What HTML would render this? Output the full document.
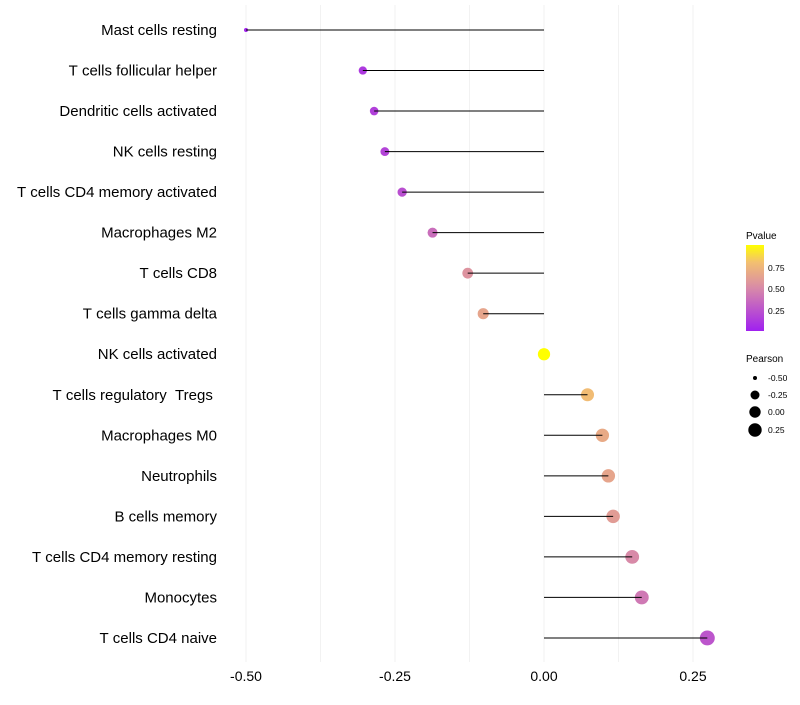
<!DOCTYPE html>
<html><head><meta charset="utf-8"><style>
body{margin:0;background:#fff;font-family:"Liberation Sans",sans-serif;}
svg text{font-family:"Liberation Sans",sans-serif;white-space:pre;}
</style></head><body>
<svg id="chart" width="800" height="700">
<g id="grid"></g>
<g id="marks"></g>
<g id="labels"></g>
<g id="ticks"></g>
<g id="legend">
<defs><linearGradient id="pg" x1="0" y1="1" x2="0" y2="0">
<stop offset="0" stop-color="#a020f0"/><stop offset="0.5" stop-color="#d88aa8"/><stop offset="0.8" stop-color="#f3c070"/><stop offset="1" stop-color="#ffff00"/></linearGradient></defs>
<text x="746" y="239" font-size="10">Pvalue</text>
<rect x="746" y="245" width="18" height="86" fill="url(#pg)"/>
<text x="768" y="271" font-size="8.5">0.75</text>
<text x="768" y="292" font-size="8.5">0.50</text>
<text x="768" y="314" font-size="8.5">0.25</text>
<text x="746" y="362" font-size="10">Pearson</text>
<circle cx="755" cy="378" r="2" fill="#000"/>
<text x="768" y="381" font-size="8.5">-0.50</text>
<circle cx="755" cy="395" r="4.5" fill="#000"/>
<text x="768" y="398" font-size="8.5">-0.25</text>
<circle cx="755" cy="412" r="5.7" fill="#000"/>
<text x="768" y="415" font-size="8.5">0.00</text>
<circle cx="755" cy="430" r="6.7" fill="#000"/>
<text x="768" y="433" font-size="8.5">0.25</text>
</g>
</svg>
<script>
const categories=["Mast cells resting","T cells follicular helper","Dendritic cells activated","NK cells resting","T cells CD4 memory activated","Macrophages M2","T cells CD8","T cells gamma delta","NK cells activated","T cells regulatory  Tregs ","Macrophages M0","Neutrophils","B cells memory","T cells CD4 memory resting","Monocytes","T cells CD4 naive"];
const pearson=[-0.50,-0.304,-0.285,-0.267,-0.238,-0.187,-0.128,-0.102,0.0,0.073,0.098,0.108,0.116,0.148,0.164,0.274];
const pvalues=[0.02,0.12,0.15,0.17,0.22,0.37,0.55,0.65,1.0,0.78,0.68,0.65,0.6,0.5,0.42,0.25];
const tickVals=[-0.5,-0.25,0,0.25];
const tickLabels=["-0.50","-0.25","0.00","0.25"];
const NS="http://www.w3.org/2000/svg";
const x=v=>544+v*596;
const y=i=>30+i*40.53;
const rad=v=>Math.sqrt(4+52*Math.max(0,(v+0.5)/0.774));
function lerp(a,b,t){return a.map((c,k)=>Math.round(c+(b[k]-c)*t));}
function pcol(p){const st=[[0,[160,32,240]],[0.5,[216,138,168]],[0.8,[243,192,112]],[1,[255,255,0]]];
for(let k=1;k<st.length;k++){if(p<=st[k][0]){const t=(p-st[k-1][0])/(st[k][0]-st[k-1][0]);const c=lerp(st[k-1][1],st[k][1],t);return `rgb(${c})`;}}return "rgb(255,255,0)";}
function mk(tag,attrs,parent){const e=document.createElementNS(NS,tag);for(const k in attrs)e.setAttribute(k,attrs[k]);parent.appendChild(e);return e;}
const grid=document.getElementById('grid'),marks=document.getElementById('marks'),labels=document.getElementById('labels'),ticks=document.getElementById('ticks');
[-0.5,-0.375,-0.25,-0.125,0,0.125,0.25].forEach(v=>{
 const l=mk('line',{x1:x(v),x2:x(v),y1:5,y2:662,stroke:'#f2f2f2','stroke-width':1},grid);
 
 
});
categories.forEach((c,i)=>{
 const t=mk('text',{x:217,y:y(i)+5,'font-size':15,'text-anchor':'end',fill:'#000'},labels);
 t.textContent=c.replace(/ /g,'\u00a0');
 
 
 const pt=mk('circle',{cx:x(pearson[i]),cy:y(i),r:rad(pearson[i]),fill:pcol(pvalues[i])},marks);
 
 
 const ln=mk('line',{x1:x(0),x2:x(pearson[i]),y1:y(i),y2:y(i),stroke:'#000','stroke-width':1},marks);
 
 
});
tickVals.forEach((v,i)=>{
 const t=mk('text',{x:x(v),y:681,'font-size':14,'text-anchor':'middle',fill:'#000'},ticks);
 t.textContent=tickLabels[i];
 
 
});
</script>
</body></html>
